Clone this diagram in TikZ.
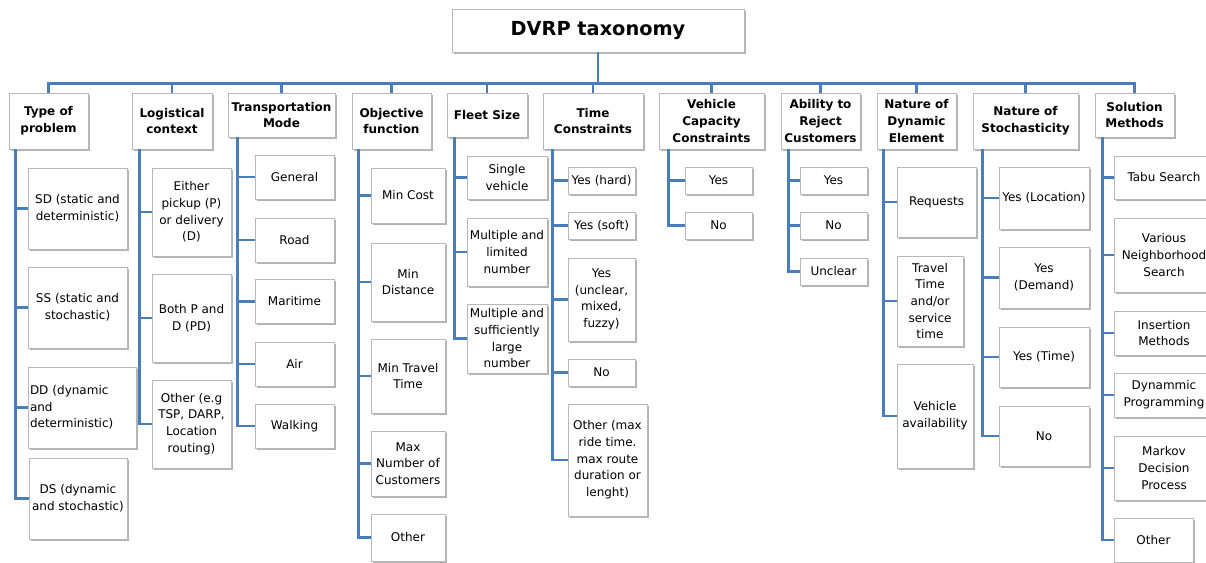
\documentclass[tikz,border=0pt]{standalone}
\usepackage{fontspec}
\setmainfont{DejaVu Sans}
\usepackage{tikz}
\usepackage{xcolor}
\usetikzlibrary{shadows}
\definecolor{linkblue}{RGB}{74,126,187}

\begin{document}
\begin{tikzpicture}[x=0.75pt, y=-0.75pt, %坐标单位取像素,y轴向下
        box/.style={draw=black!28, fill=white, line width=0.7pt, align=center,
            inner xsep=1pt, inner ysep=1pt, text=black,
            font=\fontsize{9}{12.5}\selectfont,
            drop shadow={shadow xshift=1.3pt, shadow yshift=-1.3pt, fill=black!55, opacity=0.55}},
        head/.style={box, text=black, font=\fontsize{9}{12.5}\selectfont\bfseries},
        sz/.style 2 args={minimum width=#1*0.75pt, minimum height=#2*0.75pt},
        link/.style={draw=linkblue, line width=1.6pt}]
        \useasboundingbox (0,0) rectangle (1206,563);

        \node[head, sz={292}{43}, font=\fontsize{14.5}{17}\selectfont\bfseries] (title) at (598,30.5) {DVRP taxonomy};

        % 第一层
        \node[head, sz={79}{56}]  (h1)  at (48.5,121)  {Type of\\problem};
        \node[head, sz={80}{56}]  (h2)  at (172,121)   {Logistical\\context};
        \node[head, sz={107}{44}] (h3)  at (281.5,115) {Transportation\\Mode};
        \node[head, sz={79}{56}]  (h4)  at (391.5,121) {Objective\\function};
        \node[head, sz={80}{44}]  (h5)  at (487,115)   {Fleet Size};
        \node[head, sz={100}{56}] (h6)  at (593,121)   {Time\\Constraints};
        \node[head, sz={105}{56}] (h7)  at (711.5,121) {Vehicle\\Capacity\\Constraints};
        \node[head, sz={79}{56}]  (h8)  at (820.5,121) {Ability to\\Reject\\Customers};
        \node[head, sz={79}{56}]  (h9)  at (916.5,121) {Nature of\\Dynamic\\Element};
        \node[head, sz={105}{56}] (h10) at (1025.5,121) {Nature of\\Stochasticity};
        \node[head, sz={79}{44}]  (h11) at (1134.5,115) {Solution\\Methods};

        % 第二层
        \node[box, sz={99}{81}] (a1) at (77.5,208.5) {SD (static and\\deterministic)};
        \node[box, sz={99}{81}] (a2) at (77.5,307.5) {SS (static and\\stochastic)};
        \node[box, sz={108}{81}, align=left, text width=78pt] (a3) at (82,407.5) {DD (dynamic\\and\\deterministic)};
        \node[box, sz={98}{81}] (a4) at (78,498.5) {DS (dynamic\\and stochastic)};

        \node[box, sz={79}{88}] (b1) at (191.5,212) {Either\\pickup (P)\\or delivery\\(D)};
        \node[box, sz={79}{88}] (b2) at (191.5,318) {Both P and\\D (PD)};
        \node[box, sz={79}{88}] (b3) at (191.5,424) {Other (e.g\\TSP, DARP,\\Location\\routing)};

        \node[box, sz={79}{44}] (c1) at (294.5,177)   {General};
        \node[box, sz={79}{44}] (c2) at (294.5,240)   {Road};
        \node[box, sz={79}{44}] (c3) at (294.5,301.5) {Maritime};
        \node[box, sz={79}{44}] (c4) at (294.5,364)   {Air};
        \node[box, sz={79}{44}] (c5) at (294.5,426)   {Walking};

        \node[box, sz={74}{55}] (d1) at (408,195.5) {Min Cost};
        \node[box, sz={74}{78}] (d2) at (408,282)   {Min\\Distance};
        \node[box, sz={74}{74}] (d3) at (408,376)   {Min Travel\\Time};
        \node[box, sz={74}{65}] (d4) at (408,463.5) {Max\\Number of\\Customers};
        \node[box, sz={74}{47}] (d5) at (408,537.5) {Other};

        \node[box, sz={80}{43}] (e1) at (507,177.5) {Single\\vehicle};
        \node[box, sz={80}{68}] (e2) at (507,252)   {Multiple and\\limited\\number};
        \node[box, sz={80}{69}] (e3) at (507,338.5) {Multiple and\\sufficiently\\large\\number};

        \node[box, sz={67}{27}]  (f1) at (601.5,180.5) {Yes (hard)};
        \node[box, sz={67}{27}]  (f2) at (601.5,225.5) {Yes (soft)};
        \node[box, sz={67}{83}]  (f3) at (601.5,299.5) {Yes\\(unclear,\\mixed,\\fuzzy)};
        \node[box, sz={67}{27}]  (f4) at (601.5,372.5) {No};
        \node[box, sz={79}{112}] (f5) at (607.5,460)   {Other (max\\ride time.\\max route\\duration or\\lenght)};

        \node[box, sz={67}{27}] (g1) at (718.5,180.5) {Yes};
        \node[box, sz={67}{27}] (g2) at (718.5,225.5) {No};

        \node[box, sz={67}{27}] (i1) at (833.5,180.5) {Yes};
        \node[box, sz={67}{27}] (i2) at (833.5,225.5) {No};
        \node[box, sz={67}{27}] (i3) at (833.5,271.5) {Unclear};

        \node[box, sz={79}{70}]  (j1) at (936.5,202) {Requests};
        \node[box, sz={66}{90}]  (j2) at (930,301)   {Travel\\Time\\and/or\\service\\time};
        \node[box, sz={76}{104}] (j3) at (935,416)   {Vehicle\\availability};

        \node[box, sz={90}{62}] (k1) at (1044,198)   {Yes (Location)};
        \node[box, sz={90}{61}] (k2) at (1044,277.5) {Yes\\(Demand)};
        \node[box, sz={90}{60}] (k3) at (1044,357)   {Yes (Time)};
        \node[box, sz={90}{60}] (k4) at (1044,436)   {No};

        \node[box, sz={100}{43}] (l1) at (1164,177.5) {Tabu Search};
        \node[box, sz={100}{74}] (l2) at (1164,255)   {Various\\Neighborhood\\Search};
        \node[box, sz={100}{44}] (l3) at (1164,333)   {Insertion\\Methods};
        \node[box, sz={100}{44}] (l4) at (1164,395)   {Dynammic\\Programming};
        \node[box, sz={100}{64}] (l5) at (1164,468)   {Markov\\Decision\\Process};
        \node[box, sz={79}{44}]  (l6) at (1153.5,540) {Other};

        % 连线
        \foreach \n in {h1,h2,h3,h4,h5,h6,h7,h8,h9,h10,h11}
            \draw[link] (title.south) -- ++(0,31) -| (\n.north);
        \foreach \h/\dx/\kids in {h1/7/{a1,a2,a3,a4}, h2/8/{b1,b2,b3}, h3/10/{c1,c2,c3,c4,c5},
                h4/7/{d1,d2,d3,d4,d5}, h5/8/{e1,e2,e3}, h6/10/{f1,f2,f3,f4,f5}, h7/10/{g1,g2},
                h8/8/{i1,i2,i3}, h9/7/{j1,j2,j3}, h10/10/{k1,k2,k3,k4}, h11/8/{l1,l2,l3,l4,l5,l6}}{
            \foreach \c in \kids
                \draw[link] ([xshift=\dx*0.75pt]\h.south west) |- (\c.west);
        }
\end{tikzpicture}
\end{document}
